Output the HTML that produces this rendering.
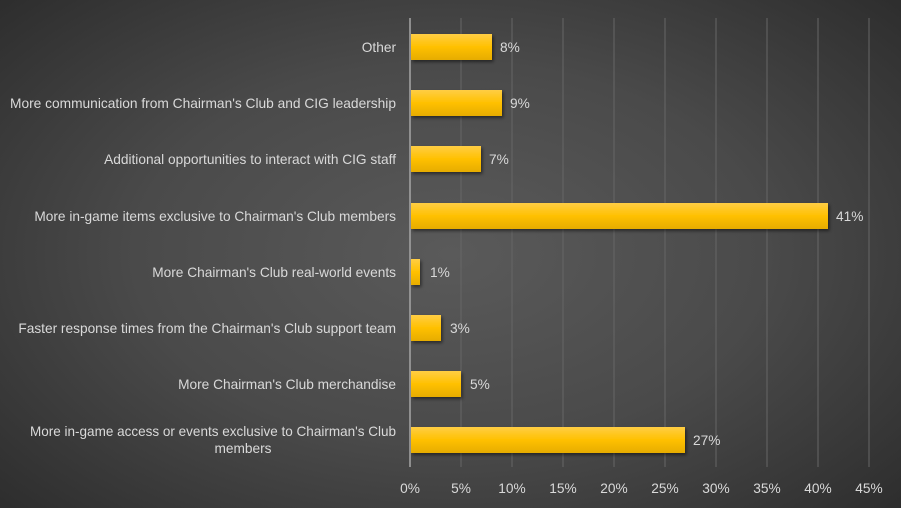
<!DOCTYPE html>
<html><head><style>
html,body{margin:0;padding:0}
body{width:901px;height:508px;overflow:hidden;background:radial-gradient(ellipse 70% 75% at 50% 50%,#5a5a5a 0%,#4a4a4a 50%,#2c2c2c 100%);font-family:"Liberation Sans",sans-serif;}
svg{position:absolute;left:0;top:0}
text{font-family:"Liberation Sans",sans-serif;font-size:13.7px;fill:#d9d9d9}
</style></head><body>
<svg width="901" height="508">
<defs>
<linearGradient id="g" x1="0" y1="0" x2="0" y2="1">
<stop offset="0" stop-color="#ffcd45"/><stop offset="0.5" stop-color="#ffc000"/><stop offset="1" stop-color="#e6ac00"/>
</linearGradient>
<filter id="s" x="-5%" y="-20%" width="110%" height="160%"><feDropShadow dx="1.5" dy="2" stdDeviation="1.5" flood-color="#000" flood-opacity="0.5"/></filter>
</defs>
<g stroke="#666" stroke-width="1">
<line x1="461" y1="18" x2="461" y2="467"/><line x1="512" y1="18" x2="512" y2="467"/><line x1="563" y1="18" x2="563" y2="467"/><line x1="614" y1="18" x2="614" y2="467"/><line x1="665" y1="18" x2="665" y2="467"/><line x1="716" y1="18" x2="716" y2="467"/><line x1="767" y1="18" x2="767" y2="467"/><line x1="818" y1="18" x2="818" y2="467"/><line x1="869" y1="18" x2="869" y2="467"/>
</g>
<g fill="url(#g)" filter="url(#s)">
<rect x="411" y="34" width="81" height="26"/>
<rect x="411" y="90" width="91" height="26"/>
<rect x="411" y="146" width="70" height="26"/>
<rect x="411" y="203" width="417" height="26"/>
<rect x="411" y="259" width="9" height="26"/>
<rect x="411" y="315" width="30" height="26"/>
<rect x="411" y="371" width="50" height="26"/>
<rect x="411" y="427" width="274" height="26"/>
</g>
<line x1="410" y1="18" x2="410" y2="467" stroke="#a6a6a6" stroke-width="1.5"/>
<g>
<text x="500" y="52">8%</text><text x="510" y="108">9%</text><text x="489" y="164">7%</text><text x="836" y="221">41%</text><text x="430" y="277">1%</text><text x="450" y="333">3%</text><text x="470" y="389">5%</text><text x="693" y="445">27%</text>
</g>
<g text-anchor="end">
<text x="396" y="52">Other</text>
<text x="396" y="108" textLength="386" lengthAdjust="spacingAndGlyphs">More communication from Chairman's Club and CIG leadership</text>
<text x="396" y="164">Additional opportunities to interact with CIG staff</text>
<text x="396" y="221">More in-game items exclusive to Chairman's Club members</text>
<text x="396" y="277">More Chairman's Club real-world events</text>
<text x="396" y="333">Faster response times from the Chairman's Club support team</text>
<text x="396" y="389">More Chairman's Club merchandise</text>
<text x="396" y="436" textLength="366" lengthAdjust="spacingAndGlyphs">More in-game access or events exclusive to Chairman's Club</text>
</g>
<g text-anchor="middle">
<text x="243" y="453">members</text>
<text x="410" y="493">0%</text><text x="461" y="493">5%</text><text x="512" y="493">10%</text><text x="563" y="493">15%</text><text x="614" y="493">20%</text><text x="665" y="493">25%</text><text x="716" y="493">30%</text><text x="767" y="493">35%</text><text x="818" y="493">40%</text><text x="869" y="493">45%</text>
</g>
</svg>
</body></html>
